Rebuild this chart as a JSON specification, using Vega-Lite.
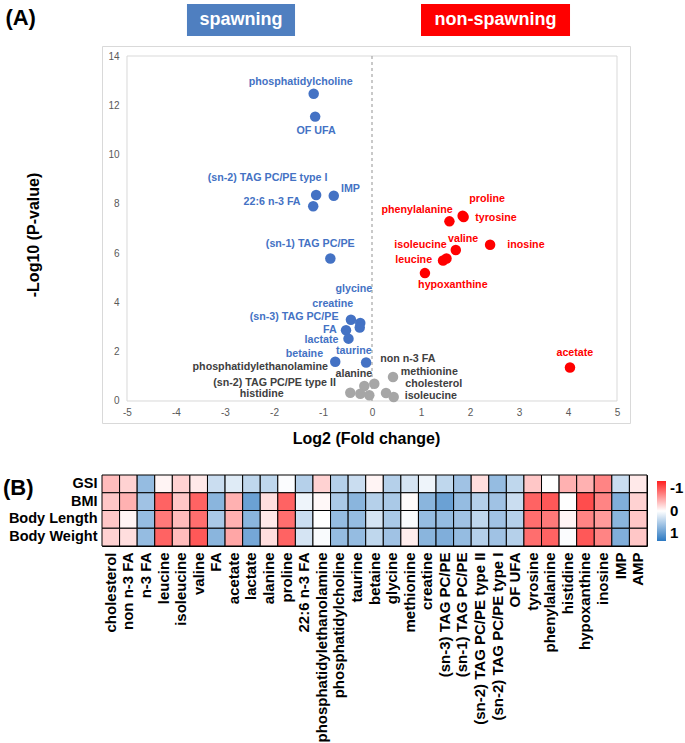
{
  "$schema": "https://vega.github.io/schema/vega-lite/v6.json",
  "padding": {"left": 2, "top": 3, "right": 0, "bottom": 0},
  "bounds": "flush",
  "spacing": 52,
  "config": {"font": "Liberation Sans", "view": {"stroke": null}},
  "resolve": {"scale": {"color": "independent", "fill": "independent"}},
  "vconcat": [
    {
      "width": 528,
      "height": 377,
      "view": {"stroke": "#d9d9d9", "strokeWidth": 1},
      "layer": [
        {
          "data": {"values": [{}]},
          "mark": {"type": "rect", "fillOpacity": 0, "stroke": "#d9d9d9", "strokeWidth": 1},
          "encoding": {"x": {"datum": -5}, "x2": {"datum": 5}, "y": {"datum": 0}, "y2": {"datum": 14}}
        },
        {
          "data": {"values": [{}]},
          "mark": {"type": "rule", "strokeDash": [3, 3], "color": "#a6a6a6", "strokeWidth": 1.2},
          "encoding": {"x": {"datum": 0}, "y": {"datum": 0}, "y2": {"datum": 14}}
        },
        {
          "data": {"values": [
            {"name": "phosphatidylcholine", "fc": -1.19, "p": 12.47, "g": "spawning", "lx": -1.455, "ly": 12.96},
            {"name": "OF UFA", "fc": -1.16, "p": 11.54, "g": "spawning", "lx": -1.14, "ly": 10.95},
            {"name": "(sn-2) TAG PC/PE type I", "fc": -1.14, "p": 8.36, "g": "spawning", "lx": -2.13, "ly": 9.04},
            {"name": "IMP", "fc": -0.78, "p": 8.33, "g": "spawning", "lx": -0.44, "ly": 8.59},
            {"name": "22:6 n-3 FA", "fc": -1.2, "p": 7.9, "g": "spawning", "lx": -2.04, "ly": 8.09},
            {"name": "(sn-1) TAG PC/PE", "fc": -0.85, "p": 5.78, "g": "spawning", "lx": -1.26, "ly": 6.37},
            {"name": "glycine", "fc": -0.24, "p": 3.17, "g": "spawning", "lx": -0.37, "ly": 4.54},
            {"name": "creatine", "fc": -0.43, "p": 3.3, "g": "spawning", "lx": -0.8, "ly": 3.94},
            {"name": "(sn-3) TAG PC/PE", "fc": -0.25, "p": 2.98, "g": "spawning", "lx": -1.59, "ly": 3.41},
            {"name": "FA", "fc": -0.53, "p": 2.87, "g": "spawning", "lx": -0.86, "ly": 2.9},
            {"name": "lactate", "fc": -0.48, "p": 2.53, "g": "spawning", "lx": -1.03, "ly": 2.47},
            {"name": "betaine", "fc": -0.75, "p": 1.59, "g": "spawning", "lx": -1.38, "ly": 1.92},
            {"name": "taurine", "fc": -0.12, "p": 1.56, "g": "spawning", "lx": -0.37, "ly": 2.04},
            {"name": "phosphatidylethanolamine", "fc": -0.443, "p": 0.337, "g": "ns", "lx": -2.28, "ly": 1.39},
            {"name": "alanine", "fc": 0.047, "p": 0.702, "g": "ns", "lx": -0.37, "ly": 1.08},
            {"name": "(sn-2) TAG PC/PE type II", "fc": -0.157, "p": 0.609, "g": "ns", "lx": -1.99, "ly": 0.74},
            {"name": "histidine", "fc": -0.239, "p": 0.296, "g": "ns", "lx": -2.25, "ly": 0.3},
            {"name": "non n-3 FA", "fc": 0.429, "p": 0.974, "g": "ns", "lx": 0.73, "ly": 1.69},
            {"name": "methionine", "fc": 0.286, "p": 0.325, "g": "ns", "lx": 1.17, "ly": 1.19},
            {"name": "cholesterol", "fc": 0.443, "p": 0.162, "g": "ns", "lx": 1.26, "ly": 0.7},
            {"name": "isoleucine", "fc": -0.055, "p": 0.231, "g": "ns", "lx": 1.2, "ly": 0.22},
            {"name": "phenylalanine", "fc": 1.58, "p": 7.29, "g": "non-spawning", "lx": 0.92, "ly": 7.76},
            {"name": "proline", "fc": 1.85, "p": 7.52, "g": "non-spawning", "lx": 2.35, "ly": 8.2},
            {"name": "tyrosine", "fc": 1.87, "p": 7.47, "g": "non-spawning", "lx": 2.53, "ly": 7.43},
            {"name": "valine", "fc": 1.71, "p": 6.13, "g": "non-spawning", "lx": 1.86, "ly": 6.59},
            {"name": "isoleucine", "fc": 1.52, "p": 5.78, "g": "non-spawning", "lx": 0.99, "ly": 6.35},
            {"name": "leucine", "fc": 1.45, "p": 5.7, "g": "non-spawning", "lx": 0.85, "ly": 5.74},
            {"name": "inosine", "fc": 2.41, "p": 6.34, "g": "non-spawning", "lx": 3.14, "ly": 6.34},
            {"name": "hypoxanthine", "fc": 1.08, "p": 5.19, "g": "non-spawning", "lx": 1.65, "ly": 4.72},
            {"name": "acetate", "fc": 4.04, "p": 1.36, "g": "non-spawning", "lx": 4.14, "ly": 1.95}
          ]},
          "layer": [
            {
              "mark": {"type": "circle", "size": 110, "opacity": 1},
              "encoding": {
                "x": {"field": "fc", "type": "quantitative",
                  "scale": {"domain": [-5.51, 5.265], "nice": false, "zero": false},
                  "axis": {"values": [-5, -4, -3, -2, -1, 0, 1, 2, 3, 4, 5], "offset": -22, "domain": false, "ticks": false, "grid": false,
                    "labelExpr": "replace(datum.label, '\u2212', '-')",
                    "labelColor": "#595959", "labelFontSize": 10, "labelPadding": 6,
                    "title": "Log2 (Fold change)", "titleFontSize": 16, "titleFontWeight": "bold", "titleColor": "black", "titlePadding": 13}},
                "y": {"field": "p", "type": "quantitative",
                  "scale": {"domain": [-0.893, 14.406], "nice": false, "zero": false},
                  "axis": {"values": [0, 2, 4, 6, 8, 10, 12, 14], "offset": -25, "domain": false, "ticks": false, "grid": false,
                    "labelColor": "#595959", "labelFontSize": 10, "labelPadding": 8,
                    "title": "-Log10 (P-value)", "titleFontSize": 16, "titleFontWeight": "bold", "titleColor": "black", "titlePadding": 66}},
                "color": {"field": "g", "type": "nominal",
                  "scale": {"domain": ["spawning", "non-spawning", "ns"], "range": ["#4472c4", "#ff0000", "#a6a6a6"]}, "legend": null}
              }
            },
            {
              "mark": {"type": "text", "fontSize": 10.7, "fontWeight": "bold", "align": "center", "baseline": "middle"},
              "encoding": {
                "x": {"field": "lx", "type": "quantitative"},
                "y": {"field": "ly", "type": "quantitative"},
                "text": {"field": "name"},
                "fill": {"field": "g", "type": "nominal",
                  "scale": {"domain": ["spawning", "non-spawning", "ns"], "range": ["#4472c4", "#ff0000", "#404040"]}, "legend": null}
              }
            }
          ]
        },
        {
          "data": {"values": [{}]},
          "mark": {"type": "rect", "fill": "#4f7fc0"},
          "encoding": {"x": {"datum": -3.776}, "x2": {"datum": -1.571}, "y": {"datum": 14.813}, "y2": {"datum": 16.112}}
        },
        {
          "data": {"values": [{}]},
          "mark": {"type": "rect", "fill": "#ff0000"},
          "encoding": {"x": {"datum": 1.0}, "x2": {"datum": 4.041}, "y": {"datum": 14.813}, "y2": {"datum": 16.112}}
        },
        {
          "data": {"values": [{}]},
          "mark": {"type": "text", "text": "spawning", "color": "white", "fontSize": 18, "fontWeight": "bold", "align": "center", "baseline": "middle"},
          "encoding": {"x": {"datum": -2.673}, "y": {"datum": 15.46}}
        },
        {
          "data": {"values": [{}]},
          "mark": {"type": "text", "text": "non-spawning", "color": "white", "fontSize": 18, "fontWeight": "bold", "align": "center", "baseline": "middle"},
          "encoding": {"x": {"datum": 2.52}, "y": {"datum": 15.46}}
        },
        {
          "data": {"values": [{}]},
          "mark": {"type": "text", "text": "(A)", "color": "black", "fontSize": 22, "fontWeight": "bold", "align": "center", "baseline": "middle"},
          "encoding": {"x": {"datum": -7.17}, "y": {"datum": 15.54}}
        },
        {
          "data": {"values": [{}]},
          "mark": {"type": "text", "text": "(B)", "color": "black", "fontSize": 22, "fontWeight": "bold", "align": "center", "baseline": "middle"},
          "encoding": {"x": {"datum": -7.22}, "y": {"datum": -3.53}}
        }
      ]
    },
    {
      "width": 545,
      "height": 71,
      "view": {"stroke": "black", "strokeWidth": 1},
      "data": {"values": [
        {"m": "cholesterol", "t": "GSI", "v": -0.3},
        {"m": "non n-3 FA", "t": "GSI", "v": -0.2},
        {"m": "n-3 FA", "t": "GSI", "v": 0.5},
        {"m": "leucine", "t": "GSI", "v": -0.05},
        {"m": "isoleucine", "t": "GSI", "v": -0.2},
        {"m": "valine", "t": "GSI", "v": -0.1},
        {"m": "FA", "t": "GSI", "v": 0.25},
        {"m": "acetate", "t": "GSI", "v": 0.15},
        {"m": "lactate", "t": "GSI", "v": 0.3},
        {"m": "alanine", "t": "GSI", "v": 0.3},
        {"m": "proline", "t": "GSI", "v": 0.02},
        {"m": "22:6 n-3 FA", "t": "GSI", "v": 0.35},
        {"m": "phosphatidylethanolamine", "t": "GSI", "v": -0.2},
        {"m": "phosphatidylcholine", "t": "GSI", "v": 0.35},
        {"m": "taurine", "t": "GSI", "v": 0.25},
        {"m": "betaine", "t": "GSI", "v": -0.05},
        {"m": "glycine", "t": "GSI", "v": 0.35},
        {"m": "methionine", "t": "GSI", "v": 0.2},
        {"m": "creatine", "t": "GSI", "v": 0.08},
        {"m": "(sn-3) TAG PC/PE", "t": "GSI", "v": 0.3},
        {"m": "(sn-1) TAG PC/PE", "t": "GSI", "v": 0.45},
        {"m": "(sn-2) TAG PC/PE type II", "t": "GSI", "v": -0.15},
        {"m": "(sn-2) TAG PC/PE type I", "t": "GSI", "v": 0.5},
        {"m": "OF UFA", "t": "GSI", "v": 0.3},
        {"m": "tyrosine", "t": "GSI", "v": -0.25},
        {"m": "phenylalanine", "t": "GSI", "v": 0.0},
        {"m": "histidine", "t": "GSI", "v": -0.35},
        {"m": "hypoxanthine", "t": "GSI", "v": -0.35},
        {"m": "inosine", "t": "GSI", "v": -0.55},
        {"m": "IMP", "t": "GSI", "v": 0.25},
        {"m": "AMP", "t": "GSI", "v": -0.1},
        {"m": "cholesterol", "t": "BMI", "v": -0.25},
        {"m": "non n-3 FA", "t": "BMI", "v": -0.35},
        {"m": "n-3 FA", "t": "BMI", "v": 0.45},
        {"m": "leucine", "t": "BMI", "v": -0.7},
        {"m": "isoleucine", "t": "BMI", "v": -0.25},
        {"m": "valine", "t": "BMI", "v": -0.7},
        {"m": "FA", "t": "BMI", "v": 0.55},
        {"m": "acetate", "t": "BMI", "v": -0.35},
        {"m": "lactate", "t": "BMI", "v": 0.7},
        {"m": "alanine", "t": "BMI", "v": -0.15},
        {"m": "proline", "t": "BMI", "v": -0.7},
        {"m": "22:6 n-3 FA", "t": "BMI", "v": 0.08},
        {"m": "phosphatidylethanolamine", "t": "BMI", "v": -0.03},
        {"m": "phosphatidylcholine", "t": "BMI", "v": 0.4},
        {"m": "taurine", "t": "BMI", "v": 0.55},
        {"m": "betaine", "t": "BMI", "v": 0.35},
        {"m": "glycine", "t": "BMI", "v": 0.4},
        {"m": "methionine", "t": "BMI", "v": -0.02},
        {"m": "creatine", "t": "BMI", "v": 0.55},
        {"m": "(sn-3) TAG PC/PE", "t": "BMI", "v": 0.7},
        {"m": "(sn-1) TAG PC/PE", "t": "BMI", "v": 0.5},
        {"m": "(sn-2) TAG PC/PE type II", "t": "BMI", "v": 0.35},
        {"m": "(sn-2) TAG PC/PE type I", "t": "BMI", "v": 0.45},
        {"m": "OF UFA", "t": "BMI", "v": 0.25},
        {"m": "tyrosine", "t": "BMI", "v": -0.7},
        {"m": "phenylalanine", "t": "BMI", "v": -0.75},
        {"m": "histidine", "t": "BMI", "v": 0.0},
        {"m": "hypoxanthine", "t": "BMI", "v": -0.8},
        {"m": "inosine", "t": "BMI", "v": -0.55},
        {"m": "IMP", "t": "BMI", "v": 0.6},
        {"m": "AMP", "t": "BMI", "v": -0.2},
        {"m": "cholesterol", "t": "Body Length", "v": -0.25},
        {"m": "non n-3 FA", "t": "Body Length", "v": -0.05},
        {"m": "n-3 FA", "t": "Body Length", "v": 0.5},
        {"m": "leucine", "t": "Body Length", "v": -0.6},
        {"m": "isoleucine", "t": "Body Length", "v": -0.3},
        {"m": "valine", "t": "Body Length", "v": -0.65},
        {"m": "FA", "t": "Body Length", "v": 0.4},
        {"m": "acetate", "t": "Body Length", "v": -0.35},
        {"m": "lactate", "t": "Body Length", "v": 0.55},
        {"m": "alanine", "t": "Body Length", "v": -0.1},
        {"m": "proline", "t": "Body Length", "v": -0.65},
        {"m": "22:6 n-3 FA", "t": "Body Length", "v": 0.25},
        {"m": "phosphatidylethanolamine", "t": "Body Length", "v": 0.0},
        {"m": "phosphatidylcholine", "t": "Body Length", "v": 0.5},
        {"m": "taurine", "t": "Body Length", "v": 0.5},
        {"m": "betaine", "t": "Body Length", "v": 0.2},
        {"m": "glycine", "t": "Body Length", "v": 0.4},
        {"m": "methionine", "t": "Body Length", "v": 0.03},
        {"m": "creatine", "t": "Body Length", "v": 0.5},
        {"m": "(sn-3) TAG PC/PE", "t": "Body Length", "v": 0.5},
        {"m": "(sn-1) TAG PC/PE", "t": "Body Length", "v": 0.45},
        {"m": "(sn-2) TAG PC/PE type II", "t": "Body Length", "v": 0.3},
        {"m": "(sn-2) TAG PC/PE type I", "t": "Body Length", "v": 0.45},
        {"m": "OF UFA", "t": "Body Length", "v": 0.35},
        {"m": "tyrosine", "t": "Body Length", "v": -0.65},
        {"m": "phenylalanine", "t": "Body Length", "v": -0.6},
        {"m": "histidine", "t": "Body Length", "v": -0.05},
        {"m": "hypoxanthine", "t": "Body Length", "v": -0.55},
        {"m": "inosine", "t": "Body Length", "v": -0.45},
        {"m": "IMP", "t": "Body Length", "v": 0.55},
        {"m": "AMP", "t": "Body Length", "v": -0.25},
        {"m": "cholesterol", "t": "Body Weight", "v": -0.2},
        {"m": "non n-3 FA", "t": "Body Weight", "v": -0.15},
        {"m": "n-3 FA", "t": "Body Weight", "v": 0.5},
        {"m": "leucine", "t": "Body Weight", "v": -0.7},
        {"m": "isoleucine", "t": "Body Weight", "v": -0.3},
        {"m": "valine", "t": "Body Weight", "v": -0.75},
        {"m": "FA", "t": "Body Weight", "v": 0.55},
        {"m": "acetate", "t": "Body Weight", "v": -0.4},
        {"m": "lactate", "t": "Body Weight", "v": 0.65},
        {"m": "alanine", "t": "Body Weight", "v": -0.15},
        {"m": "proline", "t": "Body Weight", "v": -0.7},
        {"m": "22:6 n-3 FA", "t": "Body Weight", "v": 0.2},
        {"m": "phosphatidylethanolamine", "t": "Body Weight", "v": 0.03},
        {"m": "phosphatidylcholine", "t": "Body Weight", "v": 0.5},
        {"m": "taurine", "t": "Body Weight", "v": 0.5},
        {"m": "betaine", "t": "Body Weight", "v": 0.3},
        {"m": "glycine", "t": "Body Weight", "v": 0.45},
        {"m": "methionine", "t": "Body Weight", "v": -0.08},
        {"m": "creatine", "t": "Body Weight", "v": 0.55},
        {"m": "(sn-3) TAG PC/PE", "t": "Body Weight", "v": 0.6},
        {"m": "(sn-1) TAG PC/PE", "t": "Body Weight", "v": 0.5},
        {"m": "(sn-2) TAG PC/PE type II", "t": "Body Weight", "v": 0.35},
        {"m": "(sn-2) TAG PC/PE type I", "t": "Body Weight", "v": 0.45},
        {"m": "OF UFA", "t": "Body Weight", "v": 0.35},
        {"m": "tyrosine", "t": "Body Weight", "v": -0.65},
        {"m": "phenylalanine", "t": "Body Weight", "v": -0.7},
        {"m": "histidine", "t": "Body Weight", "v": 0.02},
        {"m": "hypoxanthine", "t": "Body Weight", "v": -0.75},
        {"m": "inosine", "t": "Body Weight", "v": -0.55},
        {"m": "IMP", "t": "Body Weight", "v": 0.6},
        {"m": "AMP", "t": "Body Weight", "v": -0.25}
      ]},
      "mark": {"type": "rect", "stroke": "black", "strokeWidth": 1},
      "encoding": {
        "x": {"field": "m", "type": "nominal", "sort": null,
          "scale": {"paddingInner": 0, "paddingOuter": 0},
          "axis": {"title": null, "labelAngle": -90, "labelFontSize": 15, "labelFontWeight": "bold", "labelColor": "black",
            "ticks": false, "domain": false, "labelPadding": 6, "labelLimit": 400}},
        "y": {"field": "t", "type": "nominal", "sort": ["GSI", "BMI", "Body Length", "Body Weight"],
          "scale": {"paddingInner": 0, "paddingOuter": 0},
          "axis": {"title": null, "labelFontSize": 14.5, "labelFontWeight": "bold", "labelColor": "black",
            "ticks": false, "domain": false, "labelPadding": 5}},
        "color": {"field": "v", "type": "quantitative",
          "scale": {"domain": [1, 0, -1], "range": ["#2b78c2", "#ffffff", "#ff2020"], "interpolate": "rgb"},
          "legend": {"title": null, "orient": "right", "offset": 4, "padding": 6, "gradientLength": 60, "gradientThickness": 9,
            "values": [-1, 0, 1], "labelExpr": "replace(datum.label, '\u2212', '-')",
            "labelFontSize": 15, "labelFontWeight": "bold", "labelColor": "black", "labelOffset": 4, "gradientStrokeWidth": 0}}
      }
    }
  ]
}
